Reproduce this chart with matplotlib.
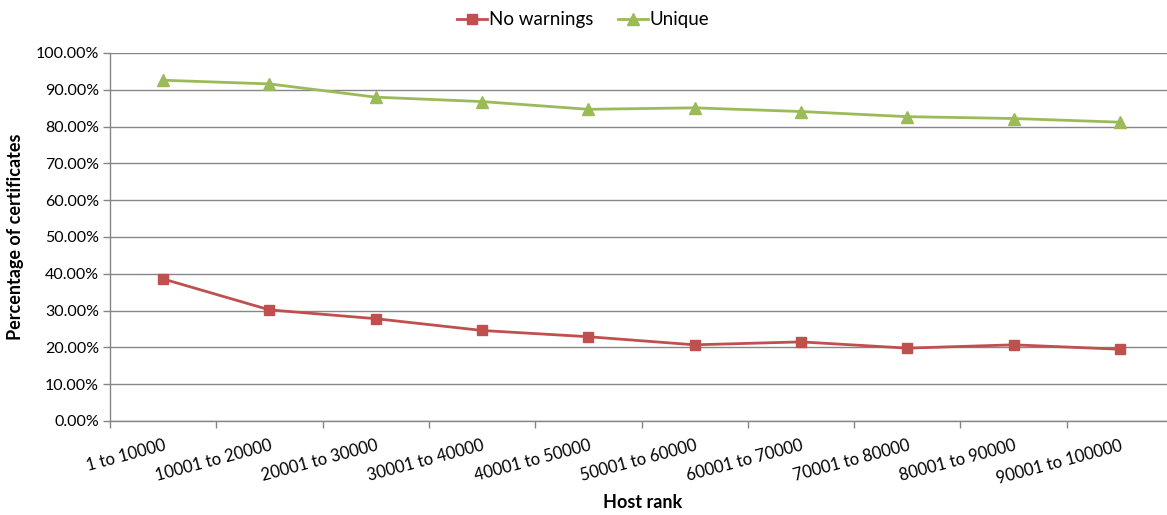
import matplotlib
matplotlib.use("Agg")
import matplotlib.pyplot as plt
import numpy as np
from matplotlib.ticker import FuncFormatter, FixedLocator

# Share of certificates per host-rank bucket
ranks = ["1 to 10000", "10001 to 20000", "20001 to 30000", "30001 to 40000",
         "40001 to 50000", "50001 to 60000", "60001 to 70000", "70001 to 80000",
         "80001 to 90000", "90001 to 100000"]
no_warnings = [38.6, 30.2, 27.8, 24.6, 22.9, 20.7, 21.5, 19.8, 20.7, 19.5]
unique = [92.6, 91.6, 88.0, 86.8, 84.7, 85.1, 84.1, 82.7, 82.2, 81.2]

RED = "#C0504D"
GREEN = "#9BBB59"
GRID = "#868686"

plt.rcParams["font.family"] = ["Lato", "DejaVu Sans"]

fig = plt.figure(figsize=(11.67, 5.15), dpi=100)
ax = fig.add_axes([110 / 1167, 94 / 515, 1063 / 1167, 368 / 515])

x = np.arange(len(ranks))
ax.plot(x, no_warnings, color=RED, lw=2.0, marker="s", ms=7,
        label="No warnings", zorder=3)
ax.plot(x, unique, color=GREEN, lw=2.0, marker="^", ms=8,
        label="Unique", zorder=3)

ax.set_xlim(-0.5, len(ranks) - 0.5)
ax.set_ylim(0, 100)
ax.set_yticks(np.arange(0, 101, 10))
ax.yaxis.set_major_formatter(FuncFormatter(lambda v, _: f"{v:.2f}%"))
ax.grid(True, axis="y", color=GRID, lw=1.0)
ax.set_axisbelow(True)

# category ticks sit on bucket boundaries, labels at bucket centres
ax.set_xticks(x)
ax.set_xticklabels(ranks, rotation=15, ha="right", rotation_mode="anchor")
ax.xaxis.set_minor_locator(FixedLocator(np.arange(-0.5, len(ranks), 1.0)))
ax.tick_params(axis="x", which="major", length=0, pad=12, labelsize=12)
ax.tick_params(axis="x", which="minor", length=5, color=GRID, width=1.0)
ax.tick_params(axis="y", length=5, color=GRID, width=1.0, labelsize=11.5, pad=3)

for side in ("top", "right"):
    ax.spines[side].set_visible(False)
for side in ("left", "bottom"):
    ax.spines[side].set_color(GRID)
    ax.spines[side].set_linewidth(1.0)

fig.text(643 / 1167, 1 - 503 / 515, "Host rank", fontsize=13,
         fontweight="bold", ha="center", va="center")
ax.set_ylabel("Percentage of certificates", fontsize=13, fontweight="bold",
              labelpad=8)

fig.legend(loc="upper center", bbox_to_anchor=(0.5, 1.0), ncol=2, frameon=False,
           fontsize=13.5, handlelength=1.6, handletextpad=0.1, columnspacing=1.3,
           borderaxespad=0.2)

fig.savefig("out.png", dpi=100)
